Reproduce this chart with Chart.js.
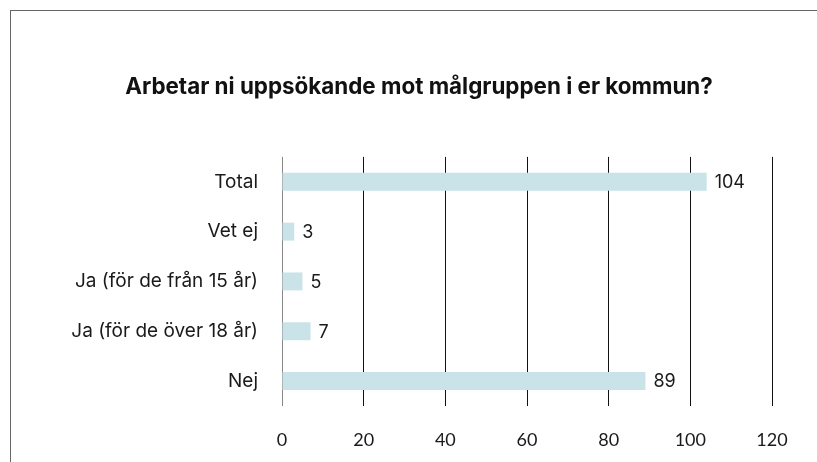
<!DOCTYPE html>
<html>
<head>
<meta charset="utf-8">
<script src="https://cdn.jsdelivr.net/npm/chart.js@4/dist/chart.umd.min.js"></script>
<style>
  html, body { margin: 0; padding: 0; background: #fff; }
  #wrap { position: relative; width: 817px; height: 462px; }
  #frame { position: absolute; left: 10px; top: 10px; right: 0; bottom: 0;
           border-left: 1px solid #666; border-top: 1px solid #666; pointer-events: none; }
  canvas { display: block; }
</style>
</head>
<body>
<div id="wrap">
  <canvas id="c" width="817" height="462"></canvas>
  <div id="frame"></div>
</div>
<script>
const categories = ["Total", "Vet ej", "Ja (för de från 15 år)", "Ja (för de över 18 år)", "Nej"];
const values = [104, 3, 5, 7, 89];
const xTicks = [0, 20, 40, 60, 80, 100, 120];
const titleText = "Arbetar ni uppsökande mot målgruppen i er kommun?";

const valueLabels = {
  id: 'valueLabels',
  afterDatasetsDraw(chart) {
    const ctx = chart.ctx;
    const meta = chart.getDatasetMeta(0);
    ctx.save();
    ctx.font = '18px Inter, "DejaVu Sans", sans-serif';
    ctx.fillStyle = '#1a1a1a';
    ctx.textAlign = 'left';
    ctx.textBaseline = 'middle';
    meta.data.forEach((bar, i) => {
      ctx.fillText(String(values[i]), bar.x + 8, bar.y + 1);
    });
    ctx.restore();
  }
};

new Chart(document.getElementById('c'), {
  type: 'bar',
  data: {
    labels: categories,
    datasets: [{
      data: values,
      backgroundColor: '#c9e3e8',
      borderWidth: 0,
      barPercentage: 0.9,
      categoryPercentage: 0.4
    }]
  },
  options: {
    indexAxis: 'y',
    responsive: false,
    animation: false,
    layout: { padding: { left: 66, right: 45, top: 0, bottom: 0 } },
    plugins: {
      legend: { display: false },
      tooltip: { enabled: false },
      title: {
        display: true,
        text: titleText,
        color: '#111',
        font: { family: 'Inter, "DejaVu Sans", sans-serif', size: 22.4, weight: '700', lineHeight: 1.2 },
        padding: { top: 74, bottom: 56 }
      }
    },
    scales: {
      x: {
        min: 0,
        max: 120,
        afterBuildTicks(scale) { scale.ticks = xTicks.map(v => ({ value: v })); },
        afterFit(scale) { scale.height = 56; },
        grid: {
          drawTicks: false,
          color: (ctx) => (ctx.tick && ctx.tick.value === 0) ? '#888' : '#111',
          lineWidth: 1
        },
        border: { display: false },
        ticks: {
          padding: 23,
          color: '#1a1a1a',
          font: { family: 'Lato, "Open Sans", sans-serif', size: 18 }
        }
      },
      y: {
        afterFit(scale) { scale.width = 216; },
        grid: { display: false, drawTicks: false },
        border: { display: false },
        ticks: {
          padding: 24,
          color: '#1a1a1a',
          font: { family: 'Inter, "DejaVu Sans", sans-serif', size: 19 }
        }
      }
    }
  },
  plugins: [valueLabels]
});
</script>
</body>
</html>
